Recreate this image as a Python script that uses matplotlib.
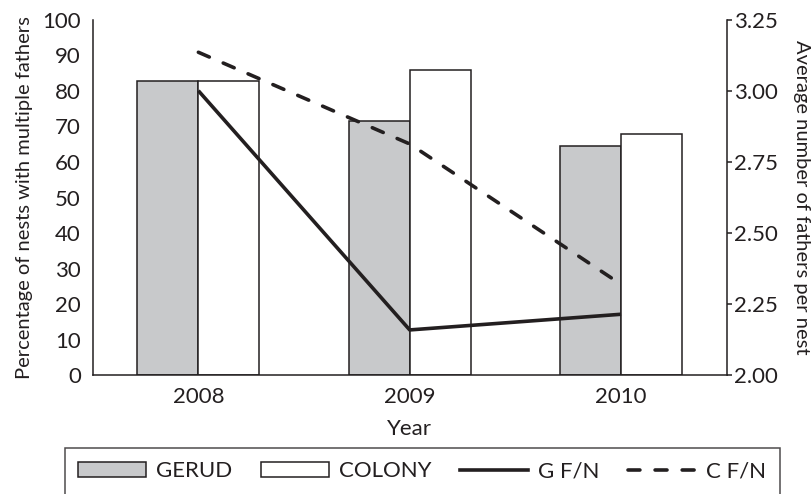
import matplotlib
matplotlib.use('Agg')
import matplotlib.pyplot as plt
import matplotlib.patches as mpatches
from matplotlib.lines import Line2D
import numpy as np

plt.rcParams['font.family'] = ['Lato', 'DejaVu Sans']

years = ['2008', '2009', '2010']
gerud = [82.8, 71.5, 64.5]          # % nests with multiple fathers
colony = [82.8, 85.8, 67.9]
g_fn = [3.00, 2.16, 2.215]          # average fathers per nest
c_fn = [3.135, 2.813, 2.32]

INK = '#231f20'
GREY = '#c8c9cb'
LW = 2.6
DASH = (3.3, 4.2)

fig = plt.figure(figsize=(8.11, 4.94), dpi=100, facecolor='white')
ax = fig.add_axes([0.1143, 0.2399, 0.7818, 0.7206])
ax2 = ax.twinx()

x = np.arange(len(years))
w = 0.289
ax.bar(x - w / 2, gerud, width=w, color=GREY, edgecolor=INK, linewidth=1.1, zorder=2)
ax.bar(x + w / 2, colony, width=w, color='white', edgecolor=INK, linewidth=1.1, zorder=2)

ax2.plot(x, g_fn, color=INK, linewidth=LW, solid_capstyle='butt', zorder=3)
ax2.plot(x, c_fn, color=INK, linewidth=LW, dashes=DASH, dash_capstyle='round', zorder=3)

ax.set_xlim(-0.5, 2.5)
ax.set_ylim(0, 100)
ax2.set_ylim(2.0, 3.25)
ax.set_yticks(np.arange(0, 101, 10))
ax2.set_yticks(np.arange(2.0, 3.26, 0.25))
ax2.set_yticklabels([f'{v:.2f}' for v in np.arange(2.0, 3.26, 0.25)])
ax.set_xticks(x)
ax.set_xticklabels(years)

for a in (ax, ax2):
    a.spines['top'].set_visible(False)
    for s in ('left', 'right', 'bottom'):
        a.spines[s].set_color(INK)
        a.spines[s].set_linewidth(1.1)
ax.spines['right'].set_visible(False)
ax2.spines['left'].set_visible(False)
ax2.spines['bottom'].set_visible(False)

ax.tick_params(axis='y', length=0, pad=8.5, labelsize=16, labelcolor=INK)
ax.tick_params(axis='x', length=0, pad=8, labelsize=16, labelcolor=INK)
ax2.tick_params(axis='y', length=3.6, width=1.1, color=INK, pad=1.5, labelsize=16, labelcolor=INK)

ax.set_ylabel('Percentage of nests with multiple fathers', fontsize=14.5, color=INK, va='center')
ax.yaxis.set_label_coords(-0.107, 0.5)
ax2.set_ylabel('Average number of fathers per nest', fontsize=14.5, color=INK, rotation=270, va='center')
ax2.yaxis.set_label_coords(1.118, 0.5)
ax.set_xlabel('Year', fontsize=16, color=INK, va='center')
ax.xaxis.set_label_coords(0.5, -0.150)

handles = [
    mpatches.Patch(facecolor=GREY, edgecolor=INK, linewidth=1.1),
    mpatches.Patch(facecolor='white', edgecolor=INK, linewidth=1.1),
    Line2D([], [], color=INK, linewidth=LW),
    Line2D([], [], color=INK, linewidth=LW, dashes=DASH, dash_capstyle='round'),
]
leg = fig.legend(handles, ['GERUD', 'COLONY', 'G F/N', 'C F/N'],
                 loc='upper left', bbox_to_anchor=(65 / 811, 1 - 448 / 494),
                 ncol=4, fontsize=16, frameon=True, fancybox=False,
                 handlelength=3.05, handleheight=0.63, handletextpad=0.45,
                 columnspacing=1.3, borderpad=0.6, borderaxespad=0)
leg.get_frame().set_edgecolor(INK)
leg.get_frame().set_linewidth(1.1)
for t in leg.get_texts():
    t.set_color(INK)

fig.savefig('out.png', dpi=100, facecolor='white')
